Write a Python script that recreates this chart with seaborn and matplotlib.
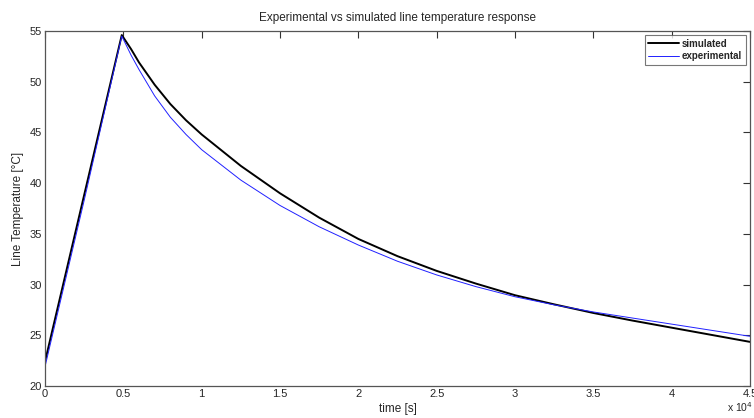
import numpy as np
import pandas as pd
import matplotlib
matplotlib.use("Agg")
import matplotlib.pyplot as plt
import seaborn as sns

# time in units of 1e4 s
t_sim = [0.0, 0.49, 0.55, 0.6, 0.7, 0.8, 0.9, 1.0, 1.25, 1.5, 1.75, 2.0, 2.25, 2.5, 2.75,
         3.0, 3.25, 3.5, 3.75, 4.0, 4.25, 4.5]
temp_sim = [22.4, 54.6, 53.2, 51.9, 49.7, 47.8, 46.2, 44.8, 41.7, 39.0, 36.6, 34.5, 32.8, 31.35,
            30.1, 28.95, 28.05, 27.2, 26.45, 25.75, 25.05, 24.35]

t_exp = [0.0, 0.25, 0.49, 0.55, 0.6, 0.7, 0.8, 0.9, 1.0, 1.25, 1.5, 1.75, 2.0,
         2.25, 2.5, 2.75, 3.0, 3.25, 3.5, 3.75, 4.0, 4.25, 4.5]
temp_exp = [21.9, 38.3, 54.5, 52.6, 51.2, 48.6, 46.5, 44.8, 43.3, 40.3, 37.8, 35.7, 33.9,
            32.3, 30.95, 29.8, 28.8, 28.0, 27.3, 26.7, 26.1, 25.5, 24.9]

x_ticks = [0, 0.5, 1, 1.5, 2, 2.5, 3, 3.5, 4, 4.5]
x_tick_labels = ["0", "0.5", "1", "1.5", "2", "2.5", "3", "3.5", "4", "4.5"]
y_ticks = [20, 25, 30, 35, 40, 45, 50, 55]

sns.set_style("white")
plt.rcParams['font.family'] = ['Liberation Sans', 'DejaVu Sans']

df_sim = pd.DataFrame({"t": t_sim, "T": temp_sim})
df_exp = pd.DataFrame({"t": t_exp, "T": temp_exp})

fig = plt.figure(figsize=(7.54, 4.18), dpi=100)
ax = fig.add_axes([45/754, 1 - 386/418, (750-45)/754, (386-31)/418])

sns.lineplot(data=df_sim, x="t", y="T", ax=ax, color="black", linewidth=1.4,
             label="simulated", estimator=None, sort=False)
sns.lineplot(data=df_exp, x="t", y="T", ax=ax, color="#2020ff", linewidth=0.7,
             label="experimental", estimator=None, sort=False)

ax.set_xlim(0, 4.5)
ax.set_ylim(20, 55)
ax.set_xticks(x_ticks)
ax.set_xticklabels(x_tick_labels)
ax.set_yticks(y_ticks)
ax.tick_params(direction="in", length=5, width=0.8, color="#333333",
               labelsize=8, top=True, right=True, pad=2)
for s in ax.spines.values():
    s.set_color("#555555")
    s.set_linewidth(0.9)
    s.set_visible(True)

ax.set_title("Experimental vs simulated line temperature response", fontsize=8.5, pad=7)
ax.set_xlabel("time [s]", fontsize=8.5, labelpad=3)
ax.set_ylabel("Line Temperature [\u00b0C]", fontsize=8.5, labelpad=4)

leg = ax.legend(loc="upper right", fontsize=7, frameon=True, fancybox=False,
                borderaxespad=0.45, handlelength=3.2, handletextpad=0.3,
                borderpad=0.35, labelspacing=0.25)
leg.get_frame().set_edgecolor("#555555")
leg.get_frame().set_linewidth(0.8)
for txt in leg.get_texts():
    txt.set_fontweight("bold")

fig.text(727/754, 1 - 412/418, "x 10$^4$", fontsize=7.5, ha="left", va="baseline")

fig.savefig("out.png", dpi=100)
